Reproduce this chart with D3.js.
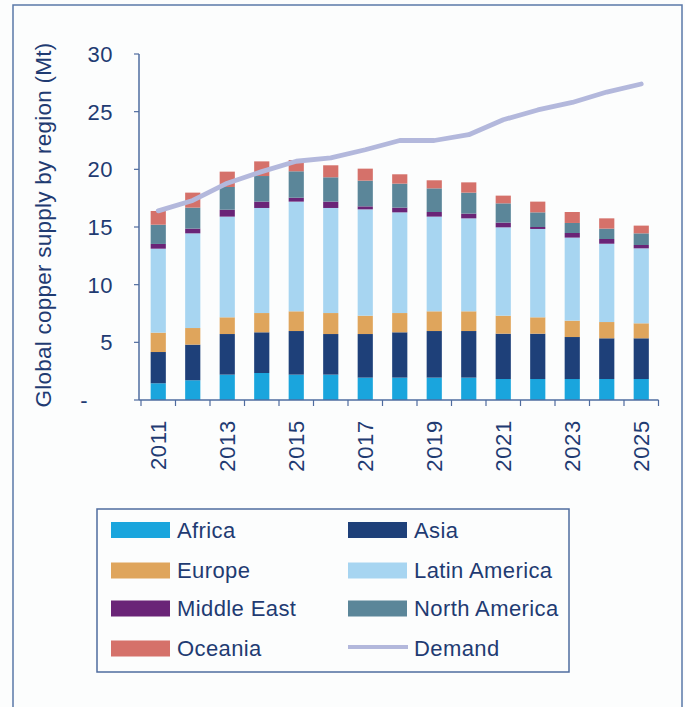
<!DOCTYPE html>
<html>
<head>
<meta charset="utf-8">
<script src="https://cdn.jsdelivr.net/npm/d3@7"></script>
<style>
  html, body { margin: 0; padding: 0; background: #fcfdfd; }
  svg { display: block; font-family: "Liberation Sans", Arial, sans-serif; }
</style>
</head>
<body>
<svg id="chart" width="685" height="707"></svg>
<script>
// Global copper supply by region (Mt), 2011–2025, with demand line
const years = [2011, 2012, 2013, 2014, 2015, 2016, 2017, 2018, 2019, 2020, 2021, 2022, 2023, 2024, 2025];

const regions = ["Africa", "Asia", "Europe", "Latin America", "Middle East", "North America", "Oceania"];

const africa       = [1.45, 1.71, 2.20, 2.34, 2.20, 2.20, 1.94, 1.94, 1.94, 1.94, 1.82, 1.82, 1.82, 1.82, 1.82];
const asia         = [2.71, 3.09, 3.52, 3.53, 3.78, 3.52, 3.78, 3.93, 4.04, 4.04, 3.93, 3.93, 3.64, 3.53, 3.53];
const europe       = [1.68, 1.44, 1.45, 1.67, 1.71, 1.82, 1.59, 1.67, 1.71, 1.71, 1.56, 1.42, 1.42, 1.41, 1.30];
const latinAmerica = [7.28, 8.21, 8.73, 9.11, 9.51, 9.11, 9.22, 8.73, 8.21, 8.06, 7.66, 7.66, 7.20, 6.79, 6.50];
const middleEast   = [0.41, 0.41, 0.60, 0.55, 0.34, 0.55, 0.26, 0.41, 0.40, 0.41, 0.41, 0.17, 0.40, 0.41, 0.29];
const northAmerica = [1.67, 1.82, 1.97, 2.22, 2.29, 2.11, 2.23, 2.08, 2.05, 1.82, 1.67, 1.27, 0.87, 0.90, 1.01];
const oceania      = [1.19, 1.30, 1.33, 1.27, 0.98, 1.04, 1.04, 0.81, 0.70, 0.89, 0.67, 0.93, 0.95, 0.89, 0.67];

const demand       = [16.4, 17.3, 18.8, 19.8, 20.7, 21.0, 21.7, 22.5, 22.5, 23.0, 24.3, 25.15, 25.8, 26.7, 27.4];

const yTicks = [0, 5, 10, 15, 20, 25, 30];
const yLabels = ["-", "5", "10", "15", "20", "25", "30"];
const xLabelYears = [2011, 2013, 2015, 2017, 2019, 2021, 2023, 2025];

const colors = {
  "Africa": "#1aa5dd",
  "Asia": "#1e4079",
  "Europe": "#dfa55c",
  "Latin America": "#a7d5f1",
  "Middle East": "#6a2477",
  "North America": "#5b8699",
  "Oceania": "#d5716a",
  "Demand": "#b3b8dc"
};
const textColor = "#1f3b72";
const axisColor = "#4f6c9f";

const seriesValues = {
  "Africa": africa, "Asia": asia, "Europe": europe, "Latin America": latinAmerica,
  "Middle East": middleEast, "North America": northAmerica, "Oceania": oceania
};

// Table for the stack layout
const table = years.map((yr, i) => {
  const row = { year: yr };
  regions.forEach(r => { row[r] = seriesValues[r][i]; });
  return row;
});

const svg = d3.select("#chart");

// Outer frame
svg.append("rect")
  .attr("x", 13).attr("y", 5).attr("width", 669).attr("height", 720)
  .attr("fill", "none").attr("stroke", "#5a78a8").attr("stroke-width", 1.5);

const x = d3.scaleBand().domain(years).range([141, 658.5]).padding(0);
const y = d3.scaleLinear().domain([0, 30]).range([400, 54]);

const barFrac = 0.44;
const barW = x.step() * barFrac;
const barOff = (x.step() - barW) / 2;

const stack = d3.stack().keys(regions);
const layers = stack(table);

const gBars = svg.append("g");
layers.forEach(layer => {
  gBars.append("g")
    .attr("fill", colors[layer.key])
    .selectAll("rect")
    .data(layer)
    .join("rect")
    .attr("x", d => x(d.data.year) + barOff)
    .attr("width", barW)
    .attr("y", d => y(d[1]))
    .attr("height", d => y(d[0]) - y(d[1]));
});

// Demand line
const line = d3.line()
  .x((d, i) => x(years[i]) + x.step() / 2)
  .y(d => y(d));
svg.append("path")
  .datum(demand)
  .attr("d", line)
  .attr("fill", "none")
  .attr("stroke", colors["Demand"])
  .attr("stroke-width", 4.8)
  .attr("stroke-linejoin", "round")
  .attr("stroke-linecap", "round");

// Y axis
const gY = svg.append("g");
gY.append("line")
  .attr("x1", 139).attr("x2", 139)
  .attr("y1", y(30)).attr("y2", y(0))
  .attr("stroke", axisColor).attr("stroke-width", 1.5);
gY.selectAll("line.tick")
  .data(yTicks)
  .join("line")
  .attr("class", "tick")
  .attr("x1", 134).attr("x2", 139)
  .attr("y1", d => y(d)).attr("y2", d => y(d))
  .attr("stroke", axisColor).attr("stroke-width", 1.2);
gY.selectAll("text")
  .data(yTicks)
  .join("text")
  .attr("x", (d, i) => i === 0 ? 88 : 113)
  .attr("y", d => y(d))
  .attr("dy", "0.36em")
  .attr("text-anchor", "end")
  .attr("fill", textColor)
  .attr("font-size", 22)
  .attr("letter-spacing", 0.5)
  .text((d, i) => yLabels[i]);

// Y axis title
svg.append("text")
  .attr("transform", "translate(43,225) rotate(-90)")
  .attr("text-anchor", "middle")
  .attr("dy", "0.36em")
  .attr("fill", textColor)
  .attr("font-size", 22.5)
  .attr("letter-spacing", 0.25)
  .text("Global copper supply by region (Mt)");

// X axis
const gX = svg.append("g");
gX.append("line")
  .attr("x1", 139).attr("x2", x.range()[1])
  .attr("y1", 400).attr("y2", 400)
  .attr("stroke", axisColor).attr("stroke-width", 1.5);
const boundaries = years.map(yr => x(yr)).concat([x.range()[1]]);
gX.selectAll("line.tick")
  .data(boundaries)
  .join("line")
  .attr("class", "tick")
  .attr("x1", d => d).attr("x2", d => d)
  .attr("y1", 400).attr("y2", 406)
  .attr("stroke", axisColor).attr("stroke-width", 1.2);
gX.selectAll("text")
  .data(xLabelYears)
  .join("text")
  .attr("transform", d => `translate(${x(d) + x.step() / 2},420) rotate(-90)`)
  .attr("text-anchor", "end")
  .attr("dy", "0.36em")
  .attr("fill", textColor)
  .attr("font-size", 22)
  .attr("letter-spacing", 0.7)
  .text(d => d);

// Legend
const legendItems = [
  { name: "Africa", col: 0, row: 0 },
  { name: "Asia", col: 1, row: 0 },
  { name: "Europe", col: 0, row: 1 },
  { name: "Latin America", col: 1, row: 1 },
  { name: "Middle East", col: 0, row: 2 },
  { name: "North America", col: 1, row: 2 },
  { name: "Oceania", col: 0, row: 3 },
  { name: "Demand", col: 1, row: 3, line: true }
];
const gL = svg.append("g");
gL.append("rect")
  .attr("x", 97).attr("y", 509).attr("width", 472).attr("height", 163)
  .attr("fill", "none").attr("stroke", "#4f6c9f").attr("stroke-width", 1.5);
const colX = [111, 348];
const rowY = [530, 570.5, 608.5, 648.5];
legendItems.forEach(it => {
  const sx = colX[it.col], cy = rowY[it.row];
  if (it.line) {
    gL.append("line")
      .attr("x1", sx).attr("x2", sx + 60)
      .attr("y1", cy - 1.5).attr("y2", cy - 1.5)
      .attr("stroke", colors[it.name]).attr("stroke-width", 4);
  } else {
    gL.append("rect")
      .attr("x", sx).attr("y", cy - 8).attr("width", 59).attr("height", 16)
      .attr("fill", colors[it.name]);
  }
  gL.append("text")
    .attr("x", sx + 66).attr("y", cy)
    .attr("dy", "0.36em")
    .attr("fill", textColor)
    .attr("font-size", 22)
    .attr("letter-spacing", 0.4)
    .text(it.name);
});
</script>
</body>
</html>
